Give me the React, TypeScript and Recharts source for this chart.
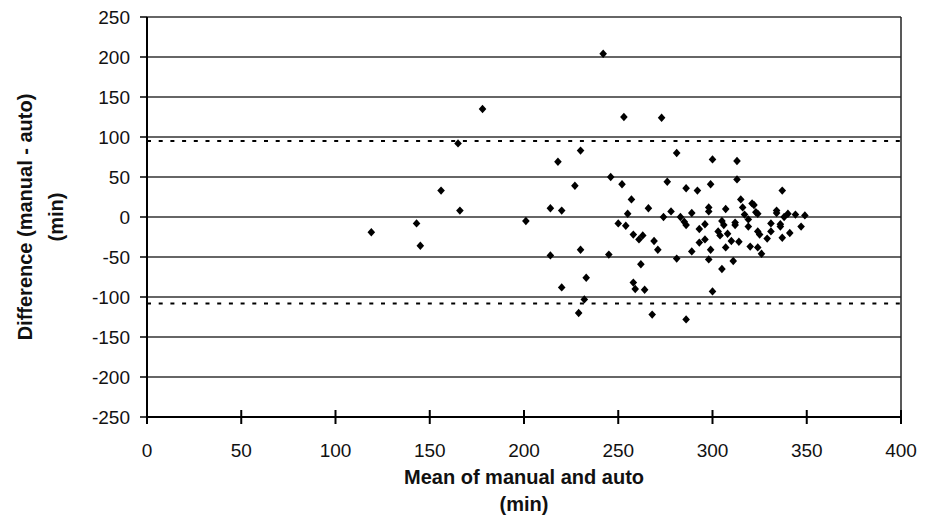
import React from "react";
import {
  ScatterChart,
  Scatter,
  XAxis,
  YAxis,
  CartesianGrid,
  ReferenceLine,
  Label,
} from "recharts";

// mean of manual and auto (min)
const meanVals = [
  119, 143, 145, 156, 165, 166, 178, 201,
  242, 253, 230, 218, 246,
  252, 227, 257, 214, 220, 266, 255, 250, 254, 258, 261, 263, 230, 214, 245, 262, 233, 220, 258, 259, 264, 232, 229,
  273, 281, 300, 276, 286, 292, 299, 278, 289, 298, 298, 307, 274, 283,
  285, 286, 296, 293, 305, 306, 303, 304, 308, 269, 271, 293, 296, 289, 299, 307, 281, 298, 305, 300, 268, 286,
  313, 313, 337, 315, 316, 321, 322, 317, 323, 324, 319, 334, 334, 340, 344, 349, 338, 312, 312, 319, 331, 336, 336, 347,
  324, 325, 331, 341, 337, 329, 310, 314, 320, 324, 326, 311,
];

// difference manual - auto (min)
const diffVals = [
  -19, -8, -36, 33, 92, 8, 135, -5,
  204, 125, 83, 69, 50,
  41, 39, 22, 11, 8, 11, 4, -8, -11, -22, -28, -23, -41, -48, -47, -59, -76, -88, -82, -90, -91, -103, -120,
  124, 80, 72, 44, 36, 33, 41, 7, 5, 12, 7, 10, 0, 0,
  -6, -10, -9, -15, -5, -10, -18, -23, -21, -30, -41, -32, -28, -43, -41, -38, -52, -53, -65, -93, -122, -128,
  70, 47, 33, 22, 12, 17, 15, 3, 6, 4, -3, 8, 5, 4, 3, 2, 0, -7, -10, -12, -8, -9, -12, -12,
  -18, -22, -18, -20, -26, -27, -30, -31, -37, -38, -46, -55,
];

const upperLimit = 95;
const lowerLimit = -108;

const xTicks = [0, 50, 100, 150, 200, 250, 300, 350, 400];
const yTicks = [-250, -200, -150, -100, -50, 0, 50, 100, 150, 200, 250];

const points = meanVals.map((m, i) => ({ mean: m, diff: diffVals[i] }));

const FONT = "'Liberation Sans', Arial, sans-serif";

function Diamond(props: any) {
  const { cx, cy } = props;
  if (cx == null || cy == null) return null;
  return (
    <polygon
      points={`${cx},${cy - 4.2} ${cx + 3.8},${cy} ${cx},${cy + 4.2} ${cx - 3.8},${cy}`}
      fill="#000"
    />
  );
}

function XTick(props: any) {
  const { x, y, payload } = props;
  return (
    <g>
      <line x1={x} x2={x} y1={y - 7} y2={y + 7} stroke="#000" strokeWidth={2} />
      <text x={x} y={y + 40} textAnchor="middle" fontSize={19} fontFamily={FONT} fill="#111">
        {payload.value}
      </text>
    </g>
  );
}

function XTitle(props: any) {
  const { viewBox } = props;
  const cx = viewBox.x + viewBox.width / 2;
  return (
    <g>
      <text x={cx} y={viewBox.y + 67} textAnchor="middle" fontSize={20} fontWeight="bold" fontFamily={FONT} fill="#111">
        Mean of manual and auto
      </text>
      <text x={cx} y={viewBox.y + 94} textAnchor="middle" fontSize={20} fontWeight="bold" fontFamily={FONT} fill="#111">
        (min)
      </text>
    </g>
  );
}

function YTitle(props: any) {
  const { viewBox } = props;
  const cy = viewBox.y + viewBox.height / 2;
  return (
    <g>
      <text
        x={17}
        y={cy}
        transform={`rotate(-90, 17, ${cy})`}
        textAnchor="middle"
        dominantBaseline="central"
        fontSize={20}
        fontWeight="bold"
        fontFamily={FONT}
        fill="#111"
      >
        Difference (manual - auto)
      </text>
      <text
        x={48}
        y={cy}
        transform={`rotate(-90, 48, ${cy})`}
        textAnchor="middle"
        dominantBaseline="central"
        fontSize={20}
        fontWeight="bold"
        fontFamily={FONT}
        fill="#111"
      >
        (min)
      </text>
    </g>
  );
}

export default function App() {
  return (
    <div style={{ width: 917, height: 509, background: "#fff" }}>
      <ScatterChart width={917} height={509} margin={{ top: 9, right: 24, bottom: 0, left: 0 }}>
        <CartesianGrid vertical={false} stroke="#333" strokeWidth={1.3} />
        <XAxis
          type="number"
          dataKey="mean"
          domain={[0, 400]}
          ticks={xTicks}
          height={100}
          axisLine={{ stroke: "#000", strokeWidth: 2 }}
          tickLine={false}
          tickSize={0}
          tickMargin={0}
          tick={<XTick />}
          interval={0}
        >
          <Label content={<XTitle />} />
        </XAxis>
        <YAxis
          type="number"
          dataKey="diff"
          domain={[-250, 250]}
          ticks={yTicks}
          width={139}
          interval={0}
          axisLine={{ stroke: "#000", strokeWidth: 2 }}
          tickLine={{ stroke: "#000", strokeWidth: 1.5 }}
          tickSize={7}
          tickMargin={10}
          tick={{ fontSize: 19, fontFamily: FONT, fill: "#111" }}
        >
          <Label content={<YTitle />} />
        </YAxis>
        <ReferenceLine x={400} stroke="#222" strokeWidth={1.5} />
        <ReferenceLine y={upperLimit} stroke="#000" strokeWidth={2} strokeDasharray="4 7.7" />
        <ReferenceLine y={lowerLimit} stroke="#000" strokeWidth={2} strokeDasharray="4 7.7" />
        <Scatter data={points} shape={<Diamond />} isAnimationActive={false} />
      </ScatterChart>
    </div>
  );
}
